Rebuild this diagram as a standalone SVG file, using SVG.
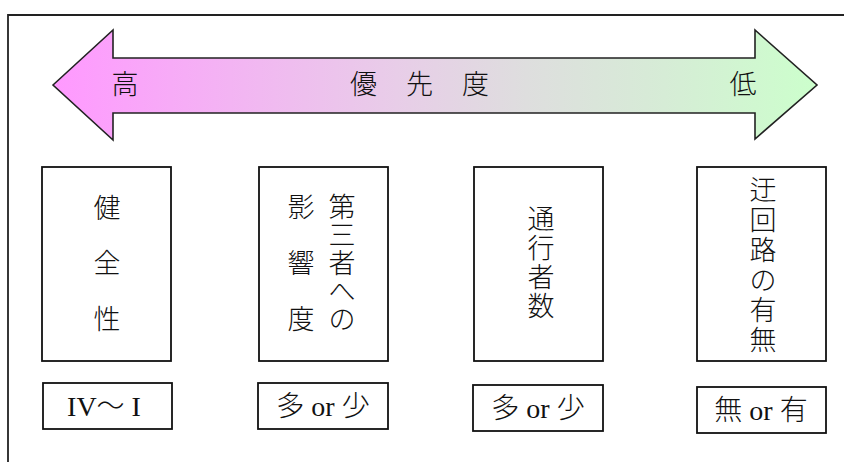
<svg xmlns="http://www.w3.org/2000/svg" width="844" height="462" viewBox="0 0 844 462">
<style>
.t{font-family:"Liberation Serif","Noto Sans CJK JP",serif;font-size:27px;font-weight:300;fill:#111;text-anchor:middle;dominant-baseline:central}
.s{font-size:28px}
.box{fill:#fff;stroke:#111;stroke-width:1.8}
</style>
<defs>
<linearGradient id="g" x1="53" y1="0" x2="817" y2="0" gradientUnits="userSpaceOnUse">
<stop offset="0" stop-color="#ff99ff"/>
<stop offset="0.25" stop-color="#f2b6f2"/>
<stop offset="0.45" stop-color="#e8cde8"/>
<stop offset="0.62" stop-color="#dedede"/>
<stop offset="0.8" stop-color="#d6ecd6"/>
<stop offset="1" stop-color="#ccffcc"/>
</linearGradient>
</defs>
<rect width="844" height="462" fill="#fff"/>
<g id="frame">
<path d="M8 462 V15 H844" fill="none" stroke="#222" stroke-width="1.8"/>
</g>
<g id="priority-arrow">
<path d="M53 85 L113 30 L113 58 L755 58 L755 30 L817 85 L755 139 L755 113 L113 113 L113 140 Z" fill="url(#g)" stroke="#222" stroke-width="1.6" stroke-linejoin="miter"/>
<text class="t" x="125" y="85">高</text>
<text class="t" x="350" y="85" style="text-anchor:start;letter-spacing:29px">優先度</text>
<text class="t" x="743" y="85">低</text>
</g>
<g id="node-kenzensei">
<rect class="box" x="42" y="167" width="129" height="194"/>
<text class="t"><tspan x="107" y="209">健</tspan><tspan x="107" y="264">全</tspan><tspan x="107" y="320">性</tspan></text>
</g>
<g id="node-daisansha">
<rect class="box" x="259" y="167" width="129" height="194"/>
<text class="t"><tspan x="342" y="208">第</tspan><tspan x="342" y="236">三</tspan><tspan x="342" y="264">者</tspan><tspan x="342" y="292">へ</tspan><tspan x="342" y="320">の</tspan></text>
<text class="t"><tspan x="301" y="208">影</tspan><tspan x="301" y="264">響</tspan><tspan x="301" y="320">度</tspan></text>
</g>
<g id="node-tsukousha">
<rect class="box" x="474" y="167" width="129" height="194"/>
<text class="t"><tspan x="541" y="220">通</tspan><tspan x="541" y="249">行</tspan><tspan x="541" y="278">者</tspan><tspan x="541" y="307">数</tspan></text>
</g>
<g id="node-ukairo">
<rect class="box" x="697" y="167" width="129" height="194"/>
<text class="t"><tspan x="763" y="191">迂</tspan><tspan x="763" y="221">回</tspan><tspan x="763" y="251">路</tspan><tspan x="763" y="281">の</tspan><tspan x="763" y="311">有</tspan><tspan x="763" y="341">無</tspan></text>
</g>
<g id="value-kenzensei">
<rect class="box" x="43" y="383" width="129" height="46"/>
<text class="t s" x="104" y="406">IV～ I</text>
</g>
<g id="value-daisansha">
<rect class="box" x="258" y="383" width="130" height="46"/>
<text class="t s" x="323" y="406">多 or 少</text>
</g>
<g id="value-tsukousha">
<rect class="box" x="473" y="385" width="130" height="46"/>
<text class="t s" x="538" y="408">多 or 少</text>
</g>
<g id="value-ukairo">
<rect class="box" x="697" y="387" width="129" height="46"/>
<text class="t s" x="761" y="410">無 or 有</text>
</g>
<g id="connectors"></g>
</svg>
